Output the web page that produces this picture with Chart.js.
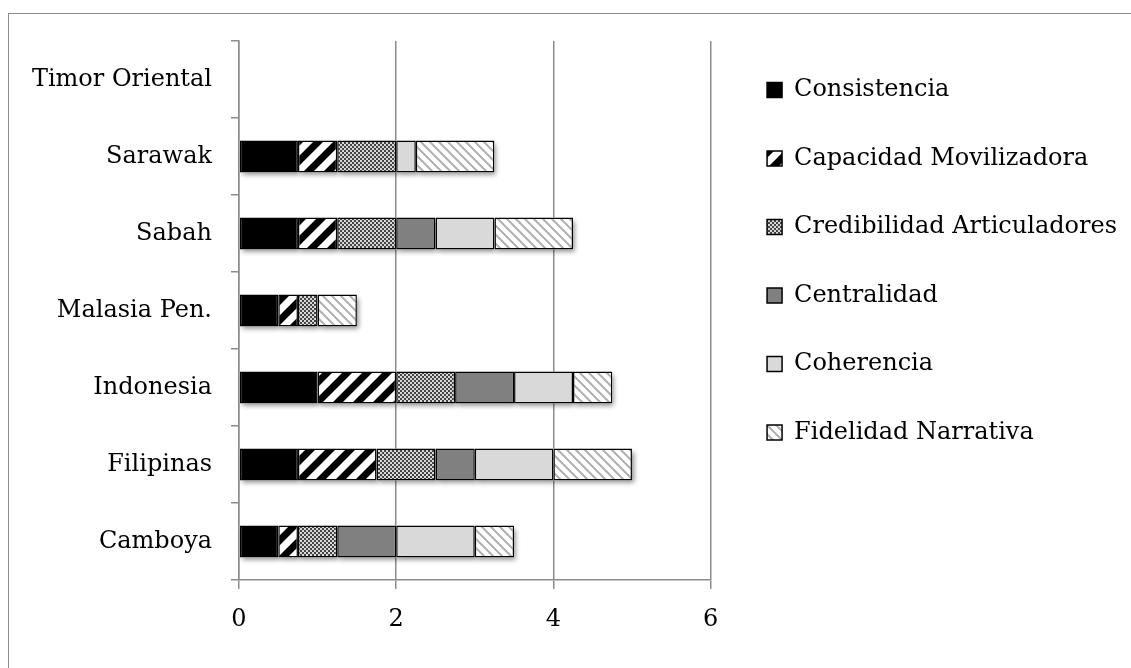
<!DOCTYPE html>
<html>
<head>
<meta charset="utf-8">
<script src="https://cdn.jsdelivr.net/npm/chart.js"></script>
<style>
  html, body { margin: 0; padding: 0; background: #fff; overflow: hidden; }
  #frame { position: absolute; left: 8px; top: 13px; width: 1200px; height: 700px; border: 1.5px solid #8c8c8c; }
  #wrap { position: absolute; left: 0; top: 0; width: 1131px; height: 668px; }
</style>
</head>
<body>
<div id="frame"></div>
<div id="wrap"><canvas id="chart"></canvas></div>
<script>
// categories, top to bottom
const categories = ["Timor Oriental", "Sarawak", "Sabah", "Malasia Pen.", "Indonesia", "Filipinas", "Camboya"];

const consistencia = [0, 0.75, 0.75, 0.5, 1, 0.75, 0.5];
const capacidad    = [0, 0.5, 0.5, 0.25, 1, 1, 0.25];
const credibilidad = [0, 0.75, 0.75, 0.25, 0.75, 0.75, 0.5];
const centralidad  = [0, 0, 0.5, 0, 0.75, 0.5, 0.75];
const coherencia   = [0, 0.25, 0.75, 0, 0.75, 1, 1];
const fidelidad    = [0, 1, 1, 0.5, 0.5, 1, 0.5];

const xTicks = [0, 2, 4, 6];

// --- fill patterns
function stripes(size, width, fg, bg, rising) {
  const c = document.createElement("canvas");
  c.width = c.height = size;
  const g = c.getContext("2d");
  g.fillStyle = bg;
  g.fillRect(0, 0, size, size);
  g.strokeStyle = fg;
  g.lineWidth = width;
  g.beginPath();
  for (const k of [-1, 0, 1]) {
    // extend past the tile so the ends don't leave notches at the corners
    if (rising) { g.moveTo(k * size - size, 2 * size); g.lineTo(k * size + 2 * size, -size); }
    else { g.moveTo(k * size - size, -size); g.lineTo(k * size + 2 * size, 2 * size); }
  }
  g.stroke();
  return g.createPattern(c, "repeat");
}

function dots() {
  const c = document.createElement("canvas");
  c.width = c.height = 4;
  const g = c.getContext("2d");
  g.fillStyle = "#444";
  g.fillRect(0, 0, 4, 4);
  g.fillStyle = "#d8d8d8";
  g.fillRect(0, 0, 2, 2);
  g.fillRect(2, 2, 2, 2);
  return g.createPattern(c, "repeat");
}

const gridGray = "#8c8c8c";

// soft drop shadow under every bar segment
const barShadow = {
  id: "barShadow",
  beforeDatasetsDraw(chart) {
    const ctx = chart.ctx;
    ctx.save();
    ctx.shadowColor = "rgba(0,0,0,0.45)";
    ctx.shadowBlur = 5;
    ctx.shadowOffsetX = 2;
    ctx.shadowOffsetY = 3;
    ctx.fillStyle = "#fff";
    chart.data.datasets.forEach((ds, i) => {
      chart.getDatasetMeta(i).data.forEach(el => {
        const p = el.getProps(["x", "y", "base", "height"], true);
        const w = Math.abs(p.x - p.base);
        if (w < 0.5) return;
        ctx.fillRect(Math.min(p.x, p.base), p.y - p.height / 2, w, p.height);
      });
    });
    ctx.restore();
  }
};

// move the legend block a bit right and up, as in the original
const legendPlace = {
  id: "legendPlace",
  afterLayout(chart) {
    const lg = chart.legend;
    lg.left += 12; lg.right += 12;
    lg.top -= 7.5; lg.bottom -= 7.5;
  }
};

Chart.defaults.font.family = "'DejaVu Serif', serif";
Chart.defaults.font.size = 24;
Chart.defaults.color = "#000";

const common = { borderColor: "#000", borderWidth: 1.5, borderSkipped: false, barPercentage: 0.415, categoryPercentage: 1 };

new Chart("chart", {
  type: "bar",
  data: {
    labels: categories,
    datasets: [
      { label: "Consistencia", data: consistencia, backgroundColor: "#000", ...common },
      { label: "Capacidad Movilizadora", data: capacidad, backgroundColor: stripes(20, 7, "#000", "#fff", true), ...common },
      { label: "Credibilidad Articuladores", data: credibilidad, backgroundColor: dots(), ...common },
      { label: "Centralidad", data: centralidad, backgroundColor: "#808080", ...common },
      { label: "Coherencia", data: coherencia, backgroundColor: "#d9d9d9", ...common },
      { label: "Fidelidad Narrativa", data: fidelidad, backgroundColor: stripes(9, 2, "#b0b0b0", "#fff", false), ...common }
    ]
  },
  options: {
    indexAxis: "y",
    responsive: true,
    maintainAspectRatio: false,
    animation: false,
    layout: { padding: { left: 0, top: 41, right: 16, bottom: 0 } },
    scales: {
      x: {
        stacked: true,
        min: 0,
        max: 6,
        afterBuildTicks: s => { s.ticks = xTicks.map(v => ({ value: v })); },
        afterFit: s => { s.height = 88; },
        grid: { color: gridGray, lineWidth: 1.5, tickLength: 9 },
        border: { color: gridGray, width: 1.5 },
        ticks: { padding: 16 }
      },
      y: {
        stacked: true,
        afterFit: s => { s.width = 239; },
        grid: { drawOnChartArea: false, offset: true, color: gridGray, lineWidth: 1.5, tickLength: 8 },
        border: { color: gridGray, width: 1.5 },
        ticks: { padding: 19 }
      }
    },
    plugins: {
      tooltip: { enabled: false },
      legend: {
        position: "right",
        align: "start",
        maxWidth: 440,
        labels: { boxWidth: 15, boxHeight: 15, padding: 44.5, color: "#000" }
      }
    }
  },
  plugins: [barShadow, legendPlace]
});
</script>
</body>
</html>
